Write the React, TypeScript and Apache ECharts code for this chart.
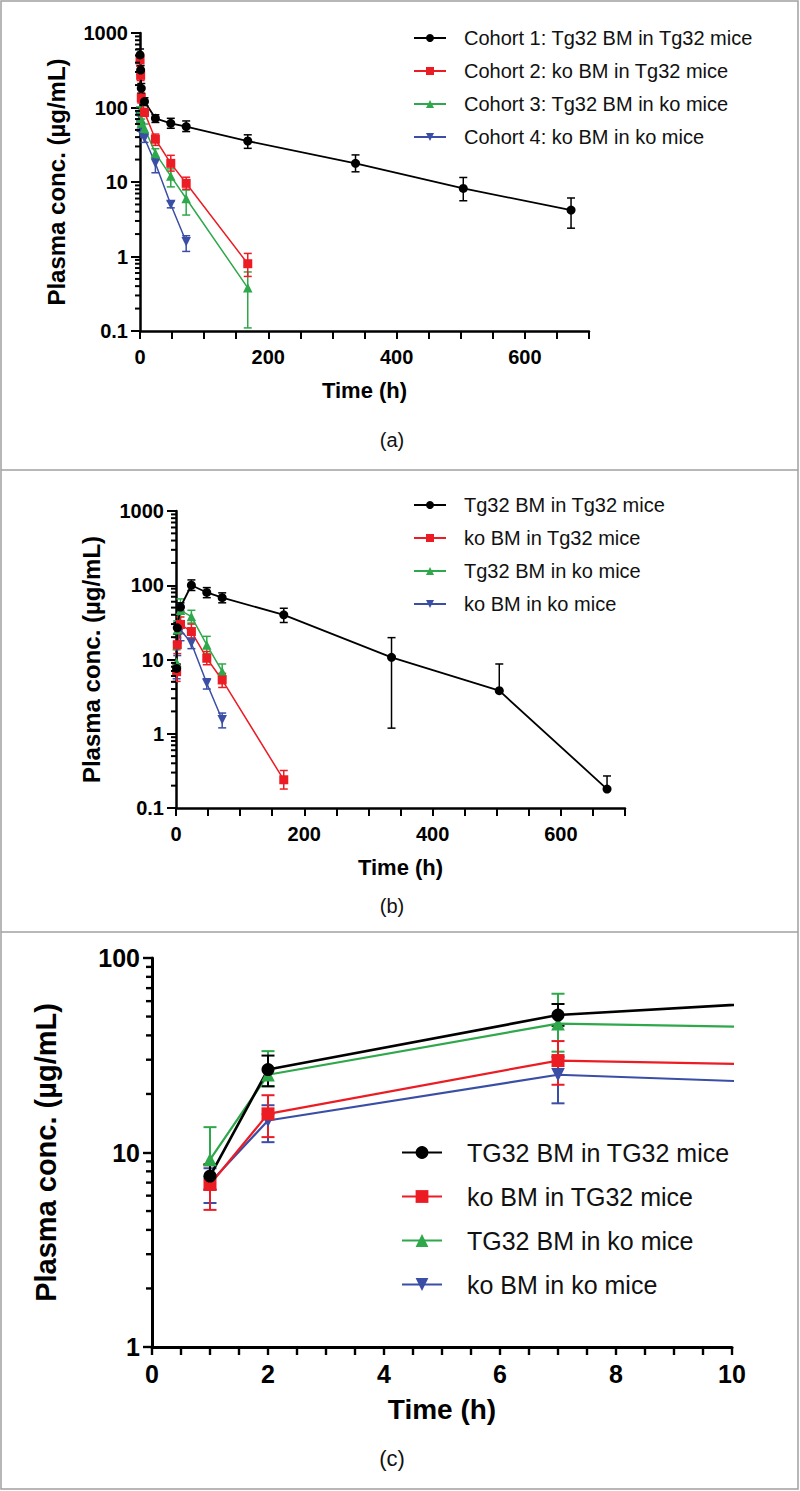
import React, { useEffect, useRef } from "react";
import * as echarts from "echarts";

const FONT = '"Liberation Sans", Arial, Helvetica, sans-serif';
const COLORS = ["#000000", "#ec1c24", "#2ea84a", "#3a4ea6"];
const SYMBOLS = ["circle", "rect", "triangle", "triangle"];
const ROTATE = [0, 0, 0, 180];

// ---------- Panel (a) ----------
const namesA = [
  "Cohort 1: Tg32 BM in Tg32 mice",
  "Cohort 2: ko BM in Tg32 mice",
  "Cohort 3: Tg32 BM in ko mice",
  "Cohort 4: ko BM in ko mice",
];
const timeA = [0.083, 1, 2, 7, 24, 48, 72, 168, 336, 504, 672];
const a1 = [507, 318, 181, 120, 71.6, 61.4, 55.5, 35.5, 17.8, 8.2, 4.2];
const a1Lo = [420, 275, 155, 106, 63, 52.6, 47.5, 28.3, 13.7, 5.6, 2.4];
const a1Hi = [610, 365, 210, 135, 80, 71.6, 66, 43, 23.1, 11.5, 6.1];
const a2 = [434, 270, 134, 86, 37.5, 17.8, 9.6, 0.8];
const a2Lo = [360, 230, 115, 76, 31, 14, 8, 0.54];
const a2Hi = [510, 310, 155, 97, 44, 22.8, 11.6, 1.1];
const a3 = [90, 72, 62, 52.6, 24.4, 12, 6, 0.38];
const a3Lo = [78, 62, 54, 45, 21, 8.6, 3.6, 0.11];
const a3Hi = [102, 82, 70, 60, 28, 15, 7.8, 0.62];
const a4 = [75, 55, 45, 38.6, 17.8, 5.0, 1.58];
const a4Lo = [66, 48, 40, 34, 13.3, 4.5, 1.17];
const a4Hi = [84, 62, 50, 43, 21, 5.5, 1.9];

// ---------- Panels (b) and (c) (same study; (c) zooms on the first 10 h) ----------
const namesB = [
  "Tg32 BM in Tg32 mice",
  "ko BM in Tg32 mice",
  "Tg32 BM in ko mice",
  "ko BM in ko mice",
];
const namesC = [
  "TG32 BM in TG32 mice",
  "ko BM in TG32 mice",
  "TG32 BM in ko mice",
  "ko BM in ko mice",
];
const timeB = [1, 2, 7, 24, 48, 72, 168, 336, 504, 672];
const b1 = [7.57, 26.7, 50.9, 100, 80, 68, 40, 10.7, 3.8, 0.18];
const b1Lo = [6.45, 21.9, 44.8, 85, 68, 58, 31.5, 1.19, 3.8, 0.18];
const b1Hi = [8.7, 31.5, 58, 118, 93, 79, 49, 19.7, 8.7, 0.27];
const b2 = [6.85, 15.8, 29.7, 23.8, 10.4, 5.3, 0.24];
const b2Lo = [5.07, 12.0, 22.3, 19, 8.5, 4.2, 0.18];
const b2Hi = [8.6, 19.7, 37.4, 30, 12.8, 6.5, 0.32];
const b3 = [9.2, 25.1, 46, 37.8, 15.7, 6.9];
const b3Lo = [7.5, 21.9, 33, 31, 12, 5.5];
const b3Hi = [13.5, 33.2, 65.5, 46, 20.5, 8.7];
const b4 = [7.0, 14.6, 25.1, 16.6, 4.8, 1.54];
const b4Lo = [5.5, 11.3, 17.9, 14, 4.0, 1.2];
const b4Hi = [8.3, 17.5, 31, 19.5, 5.5, 1.9];

const yTitle = "Plasma conc. (µg/mL)";
const xTitle = "Time (h)";

type Group = { means: number[]; lo: number[]; hi: number[] };
const groupsA: Group[] = [
  { means: a1, lo: a1Lo, hi: a1Hi },
  { means: a2, lo: a2Lo, hi: a2Hi },
  { means: a3, lo: a3Lo, hi: a3Hi },
  { means: a4, lo: a4Lo, hi: a4Hi },
];
const groupsB: Group[] = [
  { means: b1, lo: b1Lo, hi: b1Hi },
  { means: b2, lo: b2Lo, hi: b2Hi },
  { means: b3, lo: b3Lo, hi: b3Hi },
  { means: b4, lo: b4Lo, hi: b4Hi },
];

type Style = {
  symbolSize: number;
  lineWidth: number;
  capW: number;
  errW: number;
  xMax: number;
};

function buildSeries(idx: number, names: string[], times: number[], groups: Group[], st: Style) {
  const out: any[] = [];
  for (let k = groups.length - 1; k >= 0; k--) {
    const g = groups[k];
    const color = COLORS[k];
    const errData = g.means
      .map((_, i) => [times[i], g.lo[i], g.hi[i]])
      .filter((d) => d[0] <= st.xMax);
    out.push({
      type: "custom",
      name: "err-" + idx + "-" + k,
      xAxisIndex: idx,
      yAxisIndex: idx,
      silent: true,
      z: 2,
      data: errData,
      encode: { x: 0, y: [1, 2] },
      renderItem: (params: any, api: any) => {
        const x = api.value(0);
        const p1 = api.coord([x, api.value(1)]);
        const p2 = api.coord([x, api.value(2)]);
        const s = { stroke: color, lineWidth: st.errW };
        return {
          type: "group",
          children: [
            { type: "line", shape: { x1: p1[0], y1: p1[1], x2: p2[0], y2: p2[1] }, style: s },
            { type: "line", shape: { x1: p1[0] - st.capW / 2, y1: p1[1], x2: p1[0] + st.capW / 2, y2: p1[1] }, style: s },
            { type: "line", shape: { x1: p2[0] - st.capW / 2, y1: p2[1], x2: p2[0] + st.capW / 2, y2: p2[1] }, style: s },
          ],
        };
      },
    });
  }
  for (let k = groups.length - 1; k >= 0; k--) {
    const g = groups[k];
    out.push({
      type: "line",
      name: names[k],
      xAxisIndex: idx,
      yAxisIndex: idx,
      z: 3,
      clip: true,
      data: g.means.map((v, i) => [times[i], v]),
      symbol: SYMBOLS[k],
      symbolRotate: ROTATE[k],
      symbolSize: SYMBOLS[k] === "triangle" ? st.symbolSize * 1.05 : st.symbolSize,
      showSymbol: true,
      color: COLORS[k],
      itemStyle: { color: COLORS[k] },
      lineStyle: { color: COLORS[k], width: k === 0 ? st.lineWidth * 1.2 : st.lineWidth },
      emphasis: { disabled: true },
    });
  }
  return out;
}

function minorTickSeries(idx: number, decadesFrom: number, decadesTo: number, len: number, width: number) {
  const vals: number[][] = [];
  for (let d = decadesFrom; d < decadesTo; d++) {
    for (let m = 2; m <= 9; m++) vals.push([0, m * Math.pow(10, d)]);
  }
  return {
    type: "custom",
    name: "minor-" + idx,
    xAxisIndex: idx,
    yAxisIndex: idx,
    silent: true,
    z: 4,
    data: vals,
    encode: { x: 0, y: 1 },
    renderItem: (params: any, api: any) => {
      const p = api.coord([api.value(0), api.value(1)]);
      return {
        type: "line",
        shape: { x1: p[0] - len, y1: p[1], x2: p[0], y2: p[1] },
        style: { stroke: "#000", lineWidth: width },
      };
    },
  };
}

function xAxisCfg(gridIndex: number, max: number, interval: number, every: number, fs: number, nameSize: number, nameGap: number, lw: number, margin: number) {
  return {
    type: "value",
    gridIndex,
    min: 0,
    max,
    interval,
    axisLine: { show: true, onZero: false, lineStyle: { color: "#000", width: lw } },
    axisTick: { show: true, inside: false, length: 8, lineStyle: { color: "#000", width: lw * 0.8 } },
    axisLabel: {
      color: "#000",
      fontFamily: FONT,
      fontWeight: "bold",
      fontSize: fs,
      margin,
      formatter: (v: number) => (Math.abs(v / every - Math.round(v / every)) < 1e-9 ? String(v) : ""),
    },
    splitLine: { show: false },
    name: xTitle,
    nameLocation: "middle",
    nameGap,
    nameTextStyle: { color: "#000", fontFamily: FONT, fontWeight: "bold", fontSize: nameSize },
  };
}

function yAxisCfg(gridIndex: number, min: number, max: number, fs: number, nameSize: number, nameGap: number, lw: number) {
  return {
    type: "log",
    logBase: 10,
    gridIndex,
    min,
    max,
    axisLine: { show: true, onZero: false, lineStyle: { color: "#000", width: lw } },
    axisTick: { show: true, inside: false, length: 9, lineStyle: { color: "#000", width: lw * 0.8 } },
    axisLabel: {
      color: "#000",
      fontFamily: FONT,
      fontWeight: "bold",
      fontSize: fs,
      margin: 12,
      formatter: (v: number) => String(+Number(v).toPrecision(6)),
    },
    splitLine: { show: false },
    name: yTitle,
    nameLocation: "middle",
    nameGap,
    nameTextStyle: { color: "#000", fontFamily: FONT, fontWeight: "bold", fontSize: nameSize },
  };
}

function legendCfg(names: string[], left: number, top: number, fs: number, iw: number, ih: number, gap: number, textPad: number) {
  return {
    orient: "vertical",
    left,
    top,
    padding: 0,
    itemWidth: iw,
    itemHeight: ih,
    itemGap: gap,
    selectedMode: false,
    data: names,
    textStyle: { color: "#111", fontFamily: FONT, fontSize: fs, padding: [0, 0, 0, textPad] },
  };
}

export default function App() {
  const ref = useRef<HTMLDivElement>(null);
  useEffect(() => {
    if (!ref.current) return;
    const chart = echarts.init(ref.current, undefined, { renderer: "svg" });
    const styleAB: Style = { symbolSize: 9, lineWidth: 1.5, capW: 8, errW: 1.5, xMax: 700 };
    const styleC: Style = { symbolSize: 13, lineWidth: 2.2, capW: 13, errW: 2, xMax: 10 };
    const option: any = {
      animation: false,
      backgroundColor: "#ffffff",
      textStyle: { fontFamily: FONT },
      grid: [
        { left: 140, top: 33, width: 449, height: 298 },
        { left: 176, top: 511, width: 449, height: 297 },
        { left: 152, top: 958, width: 580, height: 389 },
      ],
      xAxis: [
        xAxisCfg(0, 700, 50, 200, 20, 22, 48, 2.5, 16),
        xAxisCfg(1, 700, 50, 200, 20, 22, 48, 2.5, 16),
        xAxisCfg(2, 10, 0.5, 2, 25, 28, 48, 3, 14),
      ],
      yAxis: [
        yAxisCfg(0, 0.1, 1000, 20, 24, 72, 2.5),
        yAxisCfg(1, 0.1, 1000, 20, 24, 73, 2.5),
        yAxisCfg(2, 1, 100, 25, 29, 92, 3),
      ],
      legend: [
        legendCfg(namesA, 413, 28, 20, 32, 10, 13, 13),
        legendCfg(namesB, 413, 495, 20, 32, 10, 13, 13),
        legendCfg(namesC, 401, 1140, 25, 40, 16, 19, 20),
      ],
      series: [
        ...buildSeries(0, namesA, timeA, groupsA, styleAB),
        minorTickSeries(0, -1, 3, 5, 2),
        ...buildSeries(1, namesB, timeB, groupsB, styleAB),
        minorTickSeries(1, -1, 3, 5, 2),
        ...buildSeries(2, namesC, timeB, groupsB, styleC),
        minorTickSeries(2, 0, 2, 6, 2.4),
      ],
      graphic: [
        { type: "rect", shape: { x: 1, y: 1, width: 797, height: 1488 }, style: { fill: "none", stroke: "#a0a0a0", lineWidth: 1.5 }, silent: true },
        { type: "line", shape: { x1: 1, y1: 470, x2: 798, y2: 470 }, style: { stroke: "#a0a0a0", lineWidth: 1.5 }, silent: true },
        { type: "line", shape: { x1: 1, y1: 932, x2: 798, y2: 932 }, style: { stroke: "#a0a0a0", lineWidth: 1.5 }, silent: true },
        { type: "text", x: 392, y: 440, style: { text: "(a)", fill: "#111", font: "20px " + FONT, textAlign: "center", textVerticalAlign: "middle" }, silent: true },
        { type: "text", x: 392, y: 906, style: { text: "(b)", fill: "#111", font: "20px " + FONT, textAlign: "center", textVerticalAlign: "middle" }, silent: true },
        { type: "text", x: 392, y: 1458, style: { text: "(c)", fill: "#111", font: "22px " + FONT, textAlign: "center", textVerticalAlign: "middle" }, silent: true },
      ],
    };
    chart.setOption(option);
    return () => chart.dispose();
  }, []);
  return <div ref={ref} style={{ position: "absolute", left: 0, top: 0, width: 800, height: 1491, background: "#fff" }} />;
}
